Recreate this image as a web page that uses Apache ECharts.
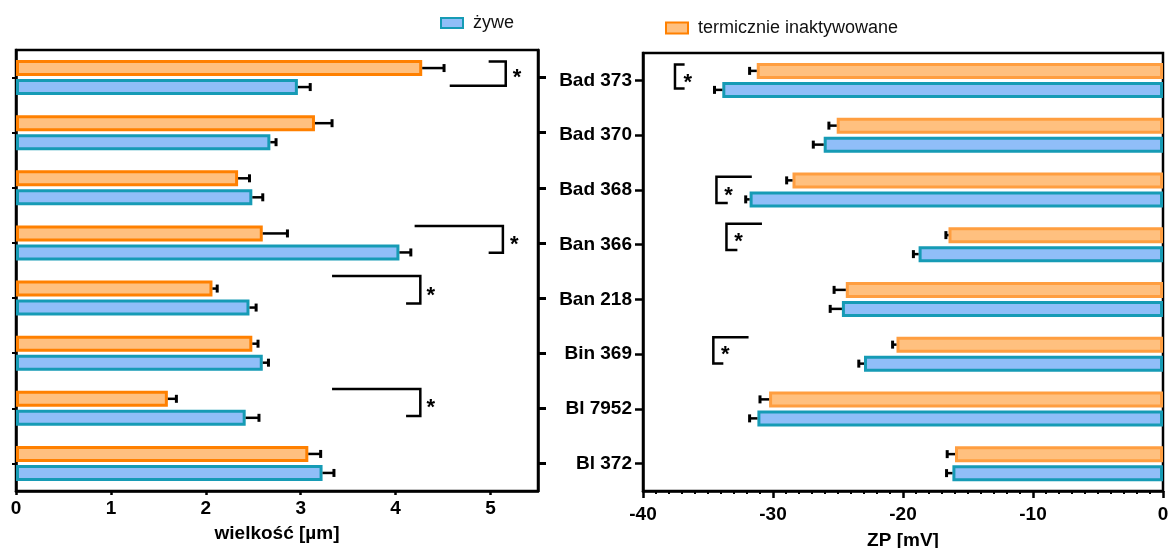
<!DOCTYPE html>
<html>
<head>
<meta charset="utf-8">
<script src="https://cdn.jsdelivr.net/npm/echarts@6/dist/echarts.min.js"></script>
<style>
html,body{margin:0;padding:0;background:#fff;}
#chart{width:1170px;height:548px;}
</style>
</head>
<body>
<div id="chart"></div>
<script>
// ---------- data ----------
const categories = ['Bad 373','Bad 370','Bad 368','Ban 366','Ban 218','Bin 369','Bl 7952','Bl 372'];
const seriesNames = ['żywe', 'termicznie inaktywowane'];

const sizeLive    = [2.97, 2.68, 2.49, 4.04, 2.46, 2.60, 2.42, 3.23];
const sizeLiveErr = [0.13, 0.06, 0.11, 0.12, 0.07, 0.06, 0.14, 0.12];
const sizeHeat    = [4.28, 3.15, 2.34, 2.60, 2.07, 2.49, 1.60, 3.08];
const sizeHeatErr = [0.23, 0.18, 0.12, 0.26, 0.05, 0.06, 0.09, 0.13];

const zpLive    = [-33.9, -26.1, -31.8, -18.8, -24.7, -23.0, -31.2, -16.2];
const zpLiveErr = [0.6, 0.8, 0.3, 0.4, 0.9, 0.4, 0.6, 0.45];
const zpHeat    = [-31.25, -25.1, -28.5, -16.5, -24.4, -20.5, -30.3, -16.0];
const zpHeatErr = [0.55, 0.6, 0.45, 0.2, 0.9, 0.3, 0.7, 0.6];

const sizeTicks = [0, 1, 2, 3, 4, 5];

// significance brackets: [category index, vertical x, top-arm end x, bottom-arm end x, star x]
const sizeBrackets = [
  [0, 5.16, 4.98, 4.57, 5.28],
  [3, 5.13, 4.20, 4.98, 5.25],
  [4, 4.26, 3.33, 4.11, 4.37],
  [6, 4.26, 3.33, 4.11, 4.37]
];
const zpBrackets = [
  [0, -37.54, -36.8, -36.8, -36.56],
  [2, -34.35, -31.63, -33.48, -33.42],
  [3, -33.58, -30.85, -32.74, -32.65],
  [5, -34.59, -31.88, -33.82, -33.67]
];
// ---------- style ----------
const FONT = '"Liberation Sans", Arial, sans-serif';
const BAR_W = 16, BAR_GAP = 0.1875;
const SLOT = BAR_W * (1 + BAR_GAP) / 2;
const C_BLUE = '#90BEF8', C_BLUE_B = '#169BB5';
const C_OR = '#FFC07F', C_OR_B = '#FF8000', C_OR_B2 = '#FF9E40';
// vertical offsets (fraction of band) for brackets: [top, bottom, star]
const sizeBracketY = [[-0.29, 0.15, -0.06],[-0.305, 0.18, -0.03],[-0.40, 0.10, -0.12],[-0.35, 0.14, -0.08]];
const zpBracketY = [[-0.29, 0.15, -0.03],[-0.24, 0.24, 0.03],[-0.38, 0.10, -0.12],[-0.31, 0.17, -0.05]];

const chart = echarts.init(document.getElementById('chart'), null, {renderer: 'canvas'});

function errSeries(idx, vals, errs, slot) {
  return {
    type: 'custom', xAxisIndex: idx, yAxisIndex: idx * 2, z: 5, silent: true,
    data: vals.map((v, i) => [v, i, errs[i]]),
    encode: {x: 0, y: 1},
    renderItem: function (params, api) {
      const v = api.value(0), c = api.value(1), e = api.value(2);
      const end = v < 0 ? v - e : v + e;
      const p0 = api.coord([v, c]), p1 = api.coord([end, c]);
      const y = p0[1] + slot * SLOT;
      return {
        type: 'group', children: [
          {type: 'line', shape: {x1: p0[0], y1: y, x2: p1[0], y2: y}, style: {stroke: '#000', lineWidth: 2.5}},
          {type: 'line', shape: {x1: p1[0], y1: y - 4, x2: p1[0], y2: y + 4}, style: {stroke: '#000', lineWidth: 3}}
        ]
      };
    }
  };
}

function bracketSeries(idx, list, ys) {
  return {
    type: 'custom', xAxisIndex: idx, yAxisIndex: idx * 2, z: 5, silent: true,
    data: list.map((b, k) => [b[1], b[0], b[2], b[3], b[4], ys[k][0], ys[k][1], ys[k][2]]),
    encode: {x: 0, y: 1},
    renderItem: function (params, api) {
      const c = api.value(1);
      const band = api.size([0, 1])[1];
      const pv = api.coord([api.value(0), c]);
      const pt = api.coord([api.value(2), c]);
      const pb = api.coord([api.value(3), c]);
      const ps = api.coord([api.value(4), c]);
      const yT = pv[1] + api.value(5) * band;
      const yB = pv[1] + api.value(6) * band;
      const yS = pv[1] + api.value(7) * band;
      return {
        type: 'group', children: [
          {type: 'polyline', shape: {points: [[pt[0], yT], [pv[0], yT], [pv[0], yB], [pb[0], yB]]},
           style: {stroke: '#000', lineWidth: 2.5, fill: null}},
          {type: 'text', x: ps[0], y: yS + 4,
           style: {text: '*', font: 'bold 22px ' + FONT, fill: '#000', align: 'center', verticalAlign: 'middle'}}
        ]
      };
    }
  };
}

const axisLineStyle = {color: '#000', width: 2.5};
const boldLabel = {color: '#000', fontSize: 19, fontWeight: 'bold', fontFamily: FONT};

const option = {
  animation: false,
  backgroundColor: '#fff',
  legend: [
    {data: [seriesNames[0]], left: 440, top: 14, padding: 0, icon: 'rect', itemWidth: 22, itemHeight: 10,
     textStyle: {fontSize: 18, color: '#111', fontFamily: FONT, padding: [0, 0, 0, 5]}},
    {data: [seriesNames[1]], left: 665, top: 19, padding: 0, icon: 'rect', itemWidth: 22, itemHeight: 11,
     textStyle: {fontSize: 18, color: '#111', fontFamily: FONT, padding: [0, 0, 0, 5]}}
  ],
  grid: [
    {left: 16, top: 50, width: 522, height: 441, show: true, borderColor: '#000', borderWidth: 2.5,
     backgroundColor: 'transparent', containLabel: false, outerBoundsMode: 'none'},
    {left: 643, top: 53, width: 520, height: 438, show: true, borderColor: '#000', borderWidth: 2.5,
     backgroundColor: 'transparent', containLabel: false, outerBoundsMode: 'none'}
  ],
  xAxis: [
    {gridIndex: 0, type: 'value', min: 0, max: 5.5, interval: 1,
     axisLine: {show: true, lineStyle: axisLineStyle},
     axisTick: {show: true, length: 4, customValues: sizeTicks, lineStyle: {color: '#000', width: 2.5}},
     axisLabel: Object.assign({margin: 8, customValues: sizeTicks}, boldLabel),
     splitLine: {show: false},
     name: 'wielkość [µm]', nameLocation: 'middle', nameGap: 33,
     nameTextStyle: {color: '#000', fontSize: 19, fontWeight: 'bold', fontFamily: FONT}},
    {gridIndex: 1, type: 'value', min: -40, max: 0, interval: 10,
     axisLine: {show: true, onZero: false, lineStyle: axisLineStyle},
     axisTick: {show: true, length: 7, lineStyle: {color: '#000', width: 2.5}},
     minorTick: {show: true, splitNumber: 10, length: 3, lineStyle: {color: '#000', width: 2}},
     axisLabel: Object.assign({margin: 14}, boldLabel),
     splitLine: {show: false},
     name: 'ZP [mV]', nameLocation: 'middle', nameGap: 40,
     nameTextStyle: {color: '#000', fontSize: 19, fontWeight: 'bold', fontFamily: FONT}}
  ],
  yAxis: [
    {gridIndex: 0, type: 'category', data: categories, inverse: true, position: 'left',
     axisLine: {show: true, lineStyle: axisLineStyle},
     axisTick: {show: true, alignWithLabel: true, length: 4, lineStyle: {color: '#000', width: 2}},
     axisLabel: {show: false}},
    {gridIndex: 0, type: 'category', data: categories, inverse: true, position: 'right',
     axisLine: {show: true, lineStyle: axisLineStyle},
     axisTick: {show: true, alignWithLabel: true, length: 8, lineStyle: {color: '#000', width: 3}},
     axisLabel: {show: false}},
    {gridIndex: 1, type: 'category', data: categories, inverse: true, position: 'left',
     axisLine: {show: true, onZero: false, lineStyle: axisLineStyle},
     axisTick: {show: true, alignWithLabel: true, length: 8, lineStyle: {color: '#000', width: 2.5}},
     axisLabel: Object.assign({margin: 11}, boldLabel)}
  ],
  series: [
    {name: seriesNames[1], type: 'bar', xAxisIndex: 0, yAxisIndex: 0, data: sizeHeat,
     barWidth: BAR_W, barGap: (BAR_GAP * 100) + '%',
     itemStyle: {color: C_OR, borderColor: C_OR_B, borderWidth: 3}},
    {name: seriesNames[0], type: 'bar', xAxisIndex: 0, yAxisIndex: 0, data: sizeLive,
     barWidth: BAR_W, barGap: (BAR_GAP * 100) + '%',
     itemStyle: {color: C_BLUE, borderColor: C_BLUE_B, borderWidth: 3}},
    {name: seriesNames[1], type: 'bar', xAxisIndex: 1, yAxisIndex: 2, data: zpHeat,
     barWidth: BAR_W, barGap: (BAR_GAP * 100) + '%',
     itemStyle: {color: C_OR, borderColor: C_OR_B2, borderWidth: 3}},
    {name: seriesNames[0], type: 'bar', xAxisIndex: 1, yAxisIndex: 2, data: zpLive,
     barWidth: BAR_W, barGap: (BAR_GAP * 100) + '%',
     itemStyle: {color: C_BLUE, borderColor: C_BLUE_B, borderWidth: 3}},
    errSeries(0, sizeHeat, sizeHeatErr, -1),
    errSeries(0, sizeLive, sizeLiveErr, 1),
    errSeries(1, zpHeat, zpHeatErr, -1),
    errSeries(1, zpLive, zpLiveErr, 1),
    bracketSeries(0, sizeBrackets, sizeBracketY),
    bracketSeries(1, zpBrackets, zpBracketY)
  ]
};
chart.setOption(option);
</script>
</body>
</html>
